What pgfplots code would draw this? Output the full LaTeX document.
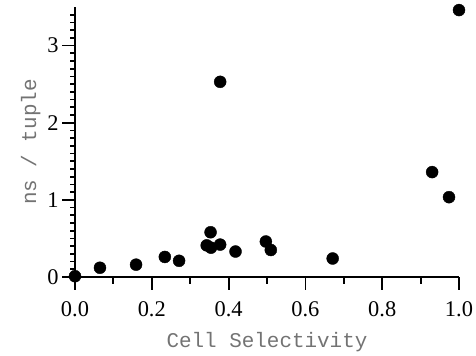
\documentclass[border=0pt]{standalone}
\usepackage{pgfplots}
\pgfplotsset{compat=1.18}
\usepackage{fontspec}
\setmainfont{Liberation Serif}
\newfontfamily\monofont{Liberation Mono}
\definecolor{labgray}{gray}{0.45}
\begin{document}
\begin{tikzpicture}
\begin{axis}[
  scale only axis,
  width=384bp, height=270bp,
  xmin=0, xmax=1, ymin=0, ymax=3.5,
  clip=false,
  axis x line*=bottom,
  axis y line*=left,
  axis line style={line width=1.8bp, black, -},
  xtick={0,0.2,0.4,0.6,0.8,1.0},
  xticklabels={0.0,0.2,0.4,0.6,0.8,1.0},
  ytick={0,1,2,3},
  yticklabels={0,1,2,3},
  tick align=inside,
  major tick length=0pt,
  minor tick length=0pt,
  every tick/.style={draw=none},
  ticklabel style={font=\fontsize{22.5}{26}\selectfont},
  xticklabel style={yshift=-21bp},
  yticklabel style={xshift=-13bp},
  xlabel={Cell Selectivity},
  ylabel={ns / tuple},
  label style={font=\fontsize{21}{25}\selectfont\monofont, text=labgray},
  xlabel style={yshift=-9bp},
  after end axis/.code={
    \foreach \t in {0,0.2,0.4,0.6,0.8,1.0}
      \draw[line width=1.8bp, black] (axis cs:\t,0) -- ++(0,-13bp);
    \foreach \t in {0.1,0.3,0.5,0.7,0.9}
      \draw[line width=1.8bp, black] (axis cs:\t,0) -- ++(0,-7bp);
    \foreach \t in {0,1,2,3}
      \draw[line width=1.8bp, black] (axis cs:0,\t) -- ++(-13bp,0);
    \foreach \t in {0.1,0.2,0.3,0.4,0.5,0.6,0.7,0.8,0.9,1.1,1.2,1.3,1.4,1.5,1.6,1.7,1.8,1.9,2.1,2.2,2.3,2.4,2.5,2.6,2.7,2.8,2.9,3.1,3.2,3.3,3.4}
      \draw[line width=1.8bp, black] (axis cs:0,\t) -- ++(-5bp,0);
  },
]
\addplot[only marks, mark=*, mark size=6bp, black] coordinates {
(0.000,0.01)
(0.065,0.12)
(0.159,0.16)
(0.234,0.26)
(0.271,0.21)
(0.353,0.58)
(0.343,0.41)
(0.354,0.38)
(0.378,0.42)
(0.418,0.33)
(0.497,0.46)
(0.510,0.35)
(0.671,0.24)
(0.378,2.53)
(1.000,3.46)
(0.930,1.36)
(0.974,1.035)
};
\end{axis}
\pgfresetboundingbox
\path (-75bp,-79bp) rectangle (401bp,277bp);
\end{tikzpicture}
\end{document}
